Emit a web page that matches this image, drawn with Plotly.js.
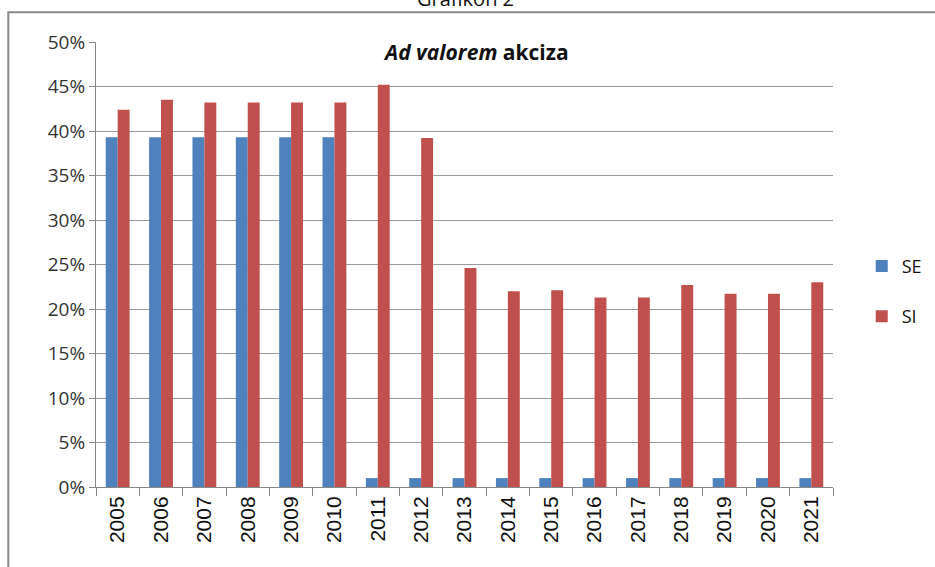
<!DOCTYPE html>
<html>
<head>
<meta charset="utf-8">
<script src="https://cdn.plot.ly/plotly-3.0.1.min.js"></script>
<style>
html,body{margin:0;padding:0;background:#fff;}
#chart{width:935px;height:567px;}
</style>
</head>
<body>
<div id="chart"></div>
<script>
const years = ['2005','2006','2007','2008','2009','2010','2011','2012','2013','2014','2015','2016','2017','2018','2019','2020','2021'];
const seValues = [0.393,0.393,0.393,0.393,0.393,0.393,0.01,0.01,0.01,0.01,0.01,0.01,0.01,0.01,0.01,0.01,0.01];
const siValues = [0.424,0.435,0.432,0.432,0.432,0.432,0.452,0.392,0.246,0.220,0.221,0.213,0.213,0.227,0.217,0.217,0.230];
const yTickVals = [0,0.05,0.10,0.15,0.20,0.25,0.30,0.35,0.40,0.45,0.50];
const yTickText = ['0%','5%','10%','15%','20%','25%','30%','35%','40%','45%','50%'];

const traces = [
  {type:'bar', name:'SE', x:years, y:seValues, marker:{color:'#4F81BD'}, legendgroup:'a'},
  {type:'bar', name:'SI', x:years, y:siValues, marker:{color:'#C0504D'}, legendgroup:'b'}
];

const layout = {
  width:935, height:567,
  margin:{l:96, r:102, t:42, b:80, autoexpand:false},
  paper_bgcolor:'#ffffff', plot_bgcolor:'#ffffff',
  barmode:'group', bargap:0.45, bargroupgap:0,
  font:{family:'Open Sans, sans-serif', color:'#222'},
  title:{text:'<b><i>Ad valorem</i> akciza</b>', x:0.51, xanchor:'center', y:0.907, yanchor:'middle', font:{size:21, color:'#111', family:'Open Sans, sans-serif'}},
  xaxis:{
    type:'category', tickangle:-90, tickson:'boundaries', ticks:'outside', ticklen:8, tickcolor:'#888',
    showline:true, linecolor:'#888', linewidth:1, showgrid:false,
    tickfont:{family:'Liberation Sans, Arial, sans-serif', size:21, color:'#111'}
  },
  yaxis:{
    range:[0,0.5], tickvals:yTickVals, ticktext:yTickText, ticks:'outside', ticklen:6, tickcolor:'#888',
    showline:true, linecolor:'#888', linewidth:1, showgrid:true, gridcolor:'#9a9a9a', gridwidth:1,
    zeroline:false, tickfont:{family:'Open Sans, sans-serif', size:19, color:'#333'}
  },
  legend:{x:1.039, xanchor:'left', y:0.44, yanchor:'middle', traceorder:'grouped', tracegroupgap:24,
    font:{size:18, color:'#111', family:'Open Sans, sans-serif'}, bgcolor:'rgba(0,0,0,0)', itemwidth:30},
  annotations:[
    {text:'Grafikon 2', xref:'paper', yref:'paper', x:0.502, y:1.062, xanchor:'center', yanchor:'bottom', showarrow:false,
     font:{size:20, color:'#111', family:'Open Sans, sans-serif'}}
  ],
  shapes:[
    {type:'rect', xref:'paper', yref:'paper', x0:-0.119, x1:1.5, y0:-0.5, y1:1.067, line:{color:'#8a8a8a', width:2}, fillcolor:'rgba(0,0,0,0)', layer:'below'}
  ]
};

Plotly.newPlot('chart', traces, layout, {displayModeBar:false, staticPlot:true});
</script>
</body>
</html>
